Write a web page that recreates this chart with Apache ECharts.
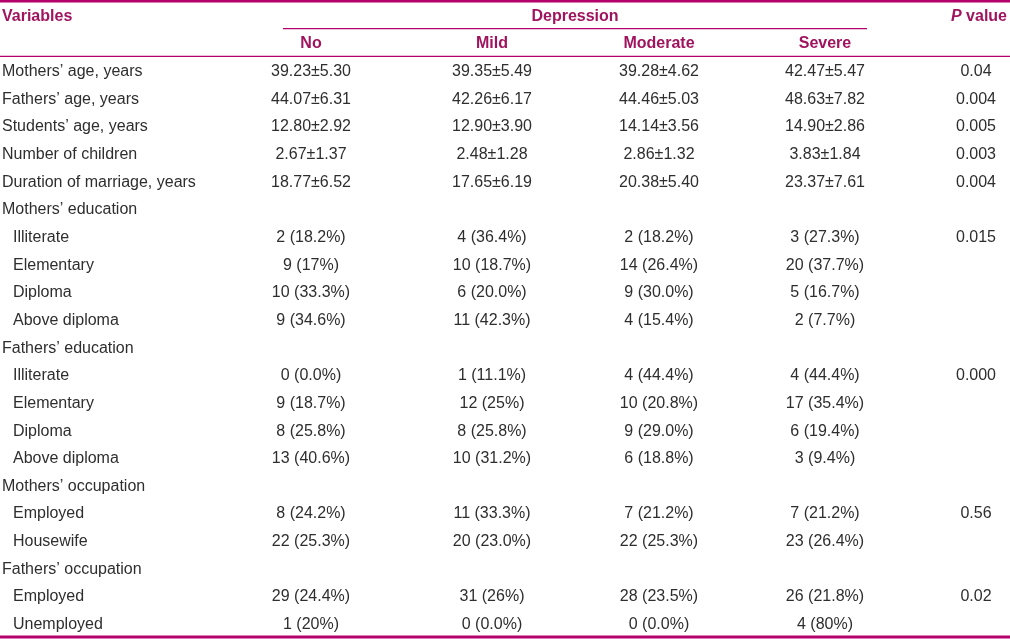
<!DOCTYPE html>
<html><head><meta charset="utf-8">
<script src="https://cdn.jsdelivr.net/npm/echarts@6/dist/echarts.min.js"></script>
<style>html,body{margin:0;padding:0;background:#fff}#c{width:1010px;height:639px}</style>
</head><body><div id="c"></div>
<script>
// ---- data ----
const varHeader = 'Variables';
const groupHeader = 'Depression';
const colHeaders = ['No', 'Mild', 'Moderate', 'Severe'];
const pHeader = '{i|P} value';
const rowLabels = [
  'Mothers’ age, years', 'Fathers’ age, years', 'Students’ age, years', 'Number of children',
  'Duration of marriage, years', 'Mothers’ education', 'Illiterate', 'Elementary', 'Diploma',
  'Above diploma', 'Fathers’ education', 'Illiterate', 'Elementary', 'Diploma', 'Above diploma',
  'Mothers’ occupation', 'Employed', 'Housewife', 'Fathers’ occupation', 'Employed', 'Unemployed'
];
const rowLevels = [0,0,0,0,0,0,1,1,1,1,0,1,1,1,1,0,1,1,0,1,1];
const noVals = ['39.23±5.30','44.07±6.31','12.80±2.92','2.67±1.37','18.77±6.52','',
  '2 (18.2%)','9 (17%)','10 (33.3%)','9 (34.6%)','',
  '0 (0.0%)','9 (18.7%)','8 (25.8%)','13 (40.6%)','',
  '8 (24.2%)','22 (25.3%)','','29 (24.4%)','1 (20%)'];
const mildVals = ['39.35±5.49','42.26±6.17','12.90±3.90','2.48±1.28','17.65±6.19','',
  '4 (36.4%)','10 (18.7%)','6 (20.0%)','11 (42.3%)','',
  '1 (11.1%)','12 (25%)','8 (25.8%)','10 (31.2%)','',
  '11 (33.3%)','20 (23.0%)','','31 (26%)','0 (0.0%)'];
const moderateVals = ['39.28±4.62','44.46±5.03','14.14±3.56','2.86±1.32','20.38±5.40','',
  '2 (18.2%)','14 (26.4%)','9 (30.0%)','4 (15.4%)','',
  '4 (44.4%)','10 (20.8%)','9 (29.0%)','6 (18.8%)','',
  '7 (21.2%)','22 (25.3%)','','28 (23.5%)','0 (0.0%)'];
const severeVals = ['42.47±5.47','48.63±7.82','14.90±2.86','3.83±1.84','23.37±7.61','',
  '3 (27.3%)','20 (37.7%)','5 (16.7%)','2 (7.7%)','',
  '4 (44.4%)','17 (35.4%)','6 (19.4%)','3 (9.4%)','',
  '7 (21.2%)','23 (26.4%)','','26 (21.8%)','4 (80%)'];
const pVals = ['0.04','0.004','0.005','0.003','0.004','','0.015','','','','',
  '0.000','','','','','0.56','','','0.02',''];

// ---- layout / style ----
const COL_X = [2, 311, 492, 659, 825, 976];
const INDENT = 11;
const TEXT_DY = 1.5;
const HEAD_COLOR = '#a0135e';
const RULE_COLOR = '#b3006b';
const BODY_COLOR = '#2e2e2e';
const FONT = '16px "Liberation Sans", Arial, sans-serif';
const BFONT = 'bold 16px "Liberation Sans", Arial, sans-serif';

const yCats = ['h1', 'h2'].concat(rowLabels.map((_, i) => 'r' + i));

// build cells
const cells = [];
function add(col, row, text, opts) { cells.push(Object.assign({ value: [COL_X[col] + (opts && opts.dx || 0), row], text }, opts || {})); }
add(0, 0, varHeader, { head: true, align: 'left' });
add(0, 0, groupHeader, { head: true, align: 'center', xFixed: 575 });
add(5, 0, pHeader, { head: true, align: 'center', rich: true, dx: 3 });
colHeaders.forEach((h, i) => add(i + 1, 1, h, { head: true, align: 'center' }));
const valCols = [noVals, mildVals, moderateVals, severeVals, pVals];
rowLabels.forEach((lab, r) => {
  add(0, r + 2, lab, { align: 'left', dx: rowLevels[r] ? INDENT : 0 });
  valCols.forEach((arr, c) => { if (arr[r]) add(c + 1, r + 2, arr[r], { align: 'center' }); });
});
cells.forEach(c => { if (c.xFixed) c.value[0] = c.xFixed; });

// rules: [x1, x2, boundaryIndex, width]
const rules = [[0, 1010, 0, 3], [283, 867, 1, 1.3], [0, 1010, 2, 1.3], [0, 1010, 23, 3]];

const chart = echarts.init(document.getElementById('c'));
chart.setOption({
  animation: false,
  grid: { left: 0, right: 0, top: 1, bottom: 2 },
  xAxis: { type: 'value', min: 0, max: 1010, show: false },
  yAxis: { type: 'category', data: yCats, inverse: true, show: false },
  series: [
    {
      type: 'custom',
      data: cells.map(c => c.value),
      renderItem(params, api) {
        const c = cells[params.dataIndex];
        const p = api.coord([api.value(0), api.value(1)]);
        const style = {
          text: c.text, x: 0, y: 0, align: c.align, verticalAlign: 'middle',
          font: c.head ? BFONT : FONT, fill: c.head ? HEAD_COLOR : BODY_COLOR
        };
        if (c.rich) style.rich = { i: { font: 'italic bold 16px "Liberation Sans", Arial, sans-serif', fill: HEAD_COLOR } };
        return { type: 'text', x: p[0], y: p[1] + TEXT_DY, style };
      }
    },
    {
      type: 'custom',
      data: rules.map(r => [r[0], r[2]]),
      renderItem(params, api) {
        const r = rules[params.dataIndex];
        const band = api.size([0, 1])[1];
        const y0 = api.coord([0, 0])[1] - band / 2 + r[2] * band;
        const xa = api.coord([r[0], 0])[0], xb = api.coord([r[1], 0])[0];
        return { type: 'line', shape: { x1: xa, y1: y0, x2: xb, y2: y0 }, style: { stroke: RULE_COLOR, lineWidth: r[3] } };
      }
    }
  ]
});
</script></body></html>
